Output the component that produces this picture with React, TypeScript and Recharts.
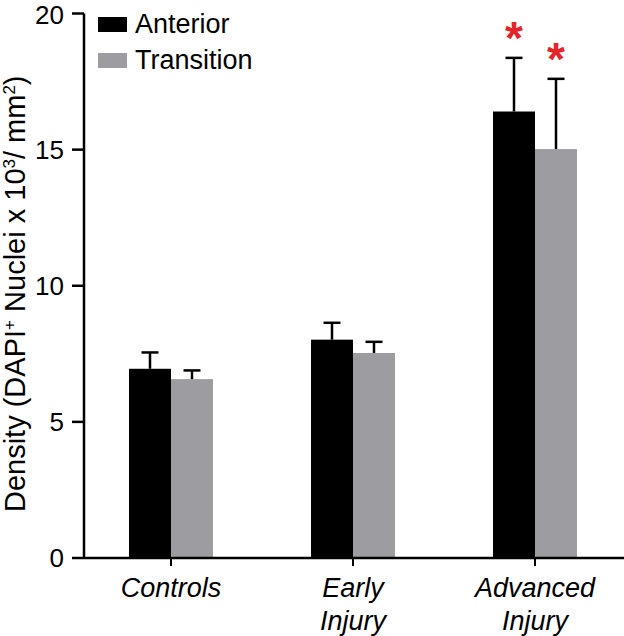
import React from 'react';
import { BarChart, Bar, XAxis, YAxis, Legend } from 'recharts';

const FONT = '"Liberation Sans", Arial, Helvetica, sans-serif';

const categories = ['Controls', 'Early Injury', 'Advanced Injury'];
const anterior = [6.95, 8.02, 16.4];
const anteriorErr = [0.6, 0.62, 1.97];
const anteriorSig = [false, false, true];
const transition = [6.57, 7.53, 15.02];
const transitionErr = [0.32, 0.41, 2.58];
const transitionSig = [false, false, true];
const yTicks = [0, 5, 10, 15, 20];

const seriesNames = ['Anterior', 'Transition'];
const seriesColors = ['#000000', '#9d9da1'];

const data = categories.map((name, i) => ({
  name,
  anterior: anterior[i],
  anteriorErr: anteriorErr[i],
  anteriorSig: anteriorSig[i],
  transition: transition[i],
  transitionErr: transitionErr[i],
  transitionSig: transitionSig[i],
}));

// bar + upward-only error bar + optional significance star
const makeShape = (key: string) => (props: any) => {
  const { x, y, width, height, fill, payload } = props;
  const value = payload[key];
  const err = payload[key + 'Err'];
  const cx = x + width / 2;
  const top = y - (height * err) / value;
  return (
    <g>
      <rect x={x} y={y} width={width} height={height} fill={fill} />
      <line x1={cx} y1={y} x2={cx} y2={top} stroke="#000" strokeWidth={2.5} />
      <line x1={cx - 8.5} y1={top} x2={cx + 8.5} y2={top} stroke="#000" strokeWidth={2.5} />
      {payload[key + 'Sig'] && (
        <text x={cx} y={top - 4} textAnchor="middle" fontSize={46} fontWeight="bold" fill="#e3242b" fontFamily={FONT}>
          *
        </text>
      )}
    </g>
  );
};

const CategoryTick = (props: any) => {
  const { x, y, payload } = props;
  const lines = String(payload.value).split(' ');
  return (
    <g transform={`translate(${x},${y})`}>
      <text textAnchor="middle" fontStyle="italic" fontSize={27} fill="#000" fontFamily={FONT}>
        {lines.map((l, i) => (
          <tspan key={i} x={0} dy={i === 0 ? 29 : 33}>
            {l}
          </tspan>
        ))}
      </text>
    </g>
  );
};

const YLabel = (props: any) => {
  const { viewBox } = props;
  const cx = 25;
  const cy = viewBox.y + viewBox.height / 2 + 8;
  return (
    <text
      x={cx}
      y={cy}
      transform={`rotate(-90, ${cx}, ${cy})`}
      textAnchor="middle"
      fontSize={29}
      fill="#000"
      fontFamily={FONT}
    >
      Density (DAPI
      <tspan fontSize={17} dy={-10}>+</tspan>
      <tspan dy={10}> Nuclei x 10</tspan>
      <tspan fontSize={17} dy={-10}>3</tspan>
      <tspan dy={10}>/ mm</tspan>
      <tspan fontSize={17} dy={-10}>2</tspan>
      <tspan dy={10}>)</tspan>
    </text>
  );
};

const LegendBox = () => (
  <div style={{ fontFamily: FONT, fontSize: 27, color: '#000' }}>
    {seriesNames.map((n, i) => (
      <div key={n} style={{ display: 'flex', alignItems: 'center', height: 36, lineHeight: '36px' }}>
        <span style={{ display: 'inline-block', width: 29, height: 15, background: seriesColors[i], marginRight: 8 }} />
        <span>{n}</span>
      </div>
    ))}
  </div>
);

export default function App() {
  return (
    <div style={{ position: 'absolute', left: 0, top: 0, width: 624, height: 636, background: '#fff' }}>
      <BarChart
        width={624}
        height={636}
        data={data}
        margin={{ top: 13.5, right: 0, left: 0, bottom: 0 }}
        barGap={0}
        barSize={42}
      >
        <XAxis
          dataKey="name"
          axisLine={{ stroke: '#000', strokeWidth: 2.5 }}
          tickLine={{ stroke: '#000', strokeWidth: 2 }}
          tickSize={8}
          tickMargin={2}
          interval={0}
          padding={{ left: -4, right: -2 }}
          tick={<CategoryTick />}
          height={78}
        />
        <YAxis
          domain={[0, 20]}
          ticks={yTicks}
          width={84}
          axisLine={{ stroke: '#000', strokeWidth: 2.5 }}
          tickLine={{ stroke: '#000', strokeWidth: 2.5 }}
          tickSize={12}
          tickMargin={8}
          tick={{ fill: '#000', fontSize: 26, fontFamily: FONT }}
          label={{ content: <YLabel /> }}
        />
        <Legend
          layout="horizontal"
          verticalAlign="middle"
          align="center"
          wrapperStyle={{ position: 'absolute', left: 98, top: 6, width: 200 }}
          content={<LegendBox />}
        />
        <Bar dataKey="anterior" name="Anterior" fill={seriesColors[0]} isAnimationActive={false} shape={makeShape('anterior')} />
        <Bar dataKey="transition" name="Transition" fill={seriesColors[1]} isAnimationActive={false} shape={makeShape('transition')} />
      </BarChart>
    </div>
  );
}
